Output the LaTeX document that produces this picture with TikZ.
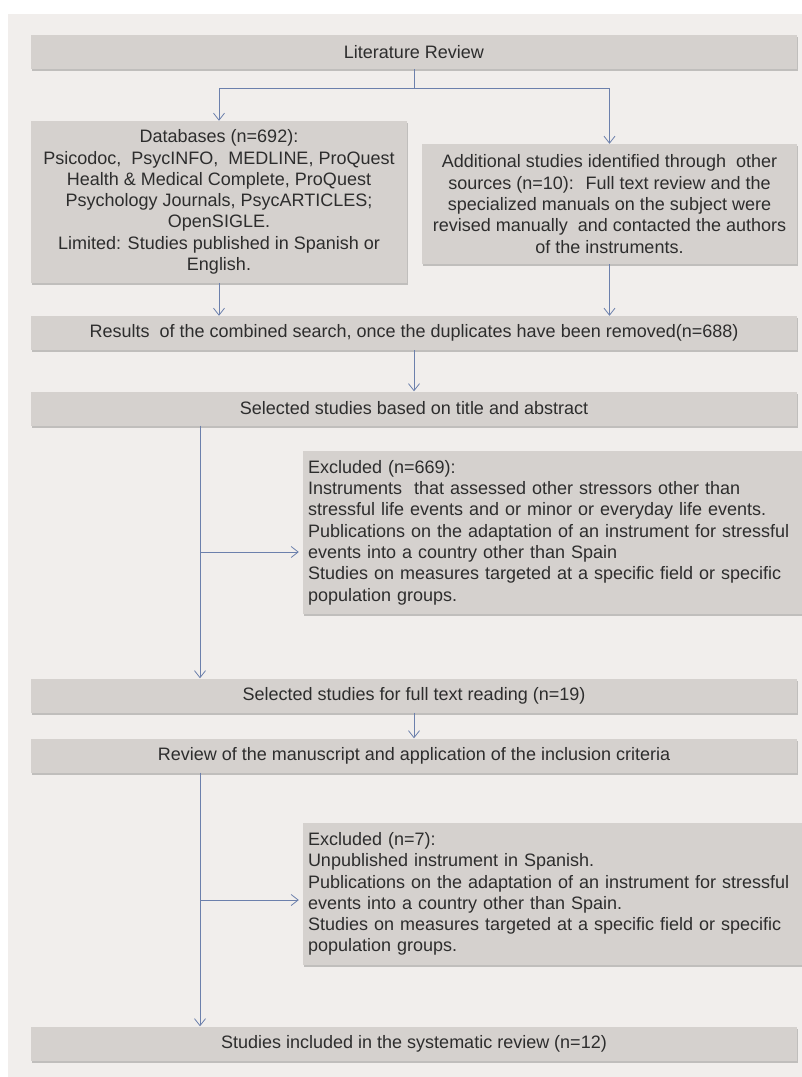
\documentclass[tikz,border=0pt]{standalone}
\usepackage{fontspec}
\setmainfont{Liberation Sans}
\usetikzlibrary{arrows.meta,shadows}

\definecolor{panelbg}{RGB}{241,238,236}
\definecolor{boxfill}{RGB}{213,209,206}
\definecolor{linkblue}{RGB}{108,128,172}
\definecolor{inktext}{RGB}{45,45,45}

\begin{document}
\begin{tikzpicture}[x=1pt,y=1pt,
  box/.style={fill=boxfill, text=inktext, inner sep=0pt, font=\fontsize{18}{21.3}\selectfont,
    drop shadow={shadow xshift=1pt, shadow yshift=-2pt, fill=black, opacity=0.2}},
  wide/.style={box, minimum width=766pt, minimum height=34pt},
  excl/.style={box, align=left, text width=490pt, inner xsep=5pt, minimum height=#1},
  link/.style={draw=linkblue, line width=0.8pt},
  arr/.style={link, -{Straight Barb[length=7pt,width=11pt]}}]
\useasboundingbox (0,0) rectangle (802,-1077);
\fill[panelbg] (8,-14) rectangle (802,-1077);

% boxes
\node[wide] (litrev) at (414,-52) {Literature Review};
\node[box, align=center, minimum width=376pt, minimum height=162pt] (dbase) at (219,-202)
  {Databases (n=692):\\ Psicodoc, \ PsycINFO, \ MEDLINE, ProQuest\\ Health \& Medical Complete, ProQuest\\
   Psychology Journals, PsycARTICLES;\\ OpenSIGLE.\\ Limited: Studies published in Spanish or\\ English.};
\node[box, align=center, minimum width=375pt, minimum height=120pt] (addit) at (609.5,-204)
  {Additional studies identified through \ other\\ sources (n=10): \ Full text review and the\\
   specialized manuals on the subject were\\ revised manually \ and contacted the authors\\ of the instruments.};
\node[wide] (merged) at (414,-333) {Results \ of the combined search, once the duplicates have been removed(n=688)};
\node[wide] (screen) at (414,-408.5) {Selected studies based on title and abstract};
\node[excl=163pt] (excl1) at (553,-532.5)
  {Excluded (n=669):\\ Instruments \ that assessed other stressors other than\\
   stressful life events and or minor or everyday life events.\\
   Publications on the adaptation of an instrument for stressful\\
   events into a country other than Spain\\
   Studies on measures targeted at a specific field or specific\\ population groups.};
\node[wide] (fulltext) at (414,-695.5) {Selected studies for full text reading (n=19)};
\node[wide] (review) at (414,-755.5) {Review of the manuscript and application of the inclusion criteria};
\node[excl=142pt] (excl2) at (553,-894)
  {Excluded (n=7):\\ Unpublished instrument in Spanish.\\
   Publications on the adaptation of an instrument for stressful\\
   events into a country other than Spain.\\
   Studies on measures targeted at a specific field or specific\\ population groups.};
\node[wide] (included) at (414,-1043.5) {Studies included in the systematic review (n=12)};

% connectors
\coordinate (fork) at (414,-88);
\coordinate (trunk) at (200,0);
\coordinate (tap1) at (200,-552);
\coordinate (tap2) at (200,-900);
\draw[link] (litrev.south) -- (fork);
\draw[arr] (fork) -| (dbase.north);
\draw[arr] (fork) -| (addit.north);
\draw[arr] (dbase.south) -- (dbase.south |- merged.north);
\draw[arr] (addit.south) -- (addit.south |- merged.north);
\draw[arr] (merged) -- (screen);
\draw[arr] (screen.south -| trunk) -- (fulltext.north -| trunk);
\draw[arr, shorten >=4pt] (tap1) -- (tap1 -| excl1.west);
\draw[arr] (fulltext) -- (review);
\draw[arr] (review.south -| trunk) -- (included.north -| trunk);
\draw[arr, shorten >=4pt] (tap2) -- (tap2 -| excl2.west);
\end{tikzpicture}
\end{document}
